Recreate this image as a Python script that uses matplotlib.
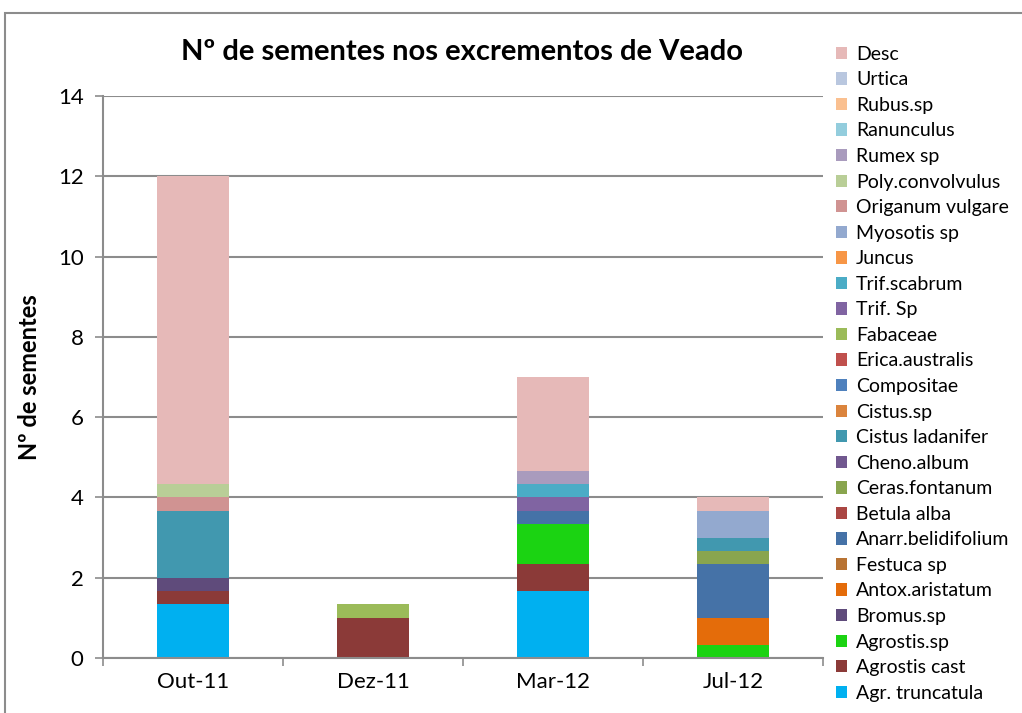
import matplotlib.pyplot as plt
import numpy as np
from matplotlib.patches import Rectangle

plt.rcParams['font.family'] = ['Lato', 'DejaVu Sans']

# Meses amostrados
meses = ['Out-11', 'Dez-11', 'Mar-12', 'Jul-12']

# Especies (de baixo para cima na pilha)
especies = ['Agr. truncatula', 'Agrostis cast', 'Agrostis.sp', 'Bromus.sp',
            'Antox.aristatum', 'Festuca sp', 'Anarr.belidifolium', 'Betula alba',
            'Ceras.fontanum', 'Cheno.album', 'Cistus ladanifer', 'Cistus.sp',
            'Compositae', 'Erica.australis', 'Fabaceae', 'Trif. Sp',
            'Trif.scabrum', 'Juncus', 'Myosotis sp', 'Origanum vulgare',
            'Poly.convolvulus', 'Rumex sp', 'Ranunculus', 'Rubus.sp',
            'Urtica', 'Desc']

# Numero medio de sementes por especie em cada mes
agr_truncatula = [1.333, 0, 1.667, 0]
agrostis_cast = [0.333, 1.0, 0.667, 0]
agrostis_sp = [0, 0, 1.0, 0.333]
bromus_sp = [0.333, 0, 0, 0]
antox_aristatum = [0, 0, 0, 0.667]
festuca_sp = [0, 0, 0, 0]
anarr_belidifolium = [0, 0, 0.333, 1.333]
betula_alba = [0, 0, 0, 0]
ceras_fontanum = [0, 0, 0, 0.333]
cheno_album = [0, 0, 0, 0]
cistus_ladanifer = [1.667, 0, 0, 0.333]
cistus_sp = [0, 0, 0, 0]
compositae = [0, 0, 0, 0]
erica_australis = [0, 0, 0, 0]
fabaceae = [0, 0.333, 0, 0]
trif_sp = [0, 0, 0.333, 0]
trif_scabrum = [0, 0, 0.333, 0]
juncus = [0, 0, 0, 0]
myosotis_sp = [0, 0, 0, 0.667]
origanum_vulgare = [0.333, 0, 0, 0]
poly_convolvulus = [0.333, 0, 0, 0]
rumex_sp = [0, 0, 0.333, 0]
ranunculus = [0, 0, 0, 0]
rubus_sp = [0, 0, 0, 0]
urtica = [0, 0, 0, 0]
desc = [7.667, 0, 2.333, 0.333]

valores = [agr_truncatula, agrostis_cast, agrostis_sp, bromus_sp,
           antox_aristatum, festuca_sp, anarr_belidifolium, betula_alba,
           ceras_fontanum, cheno_album, cistus_ladanifer, cistus_sp,
           compositae, erica_australis, fabaceae, trif_sp,
           trif_scabrum, juncus, myosotis_sp, origanum_vulgare,
           poly_convolvulus, rumex_sp, ranunculus, rubus_sp,
           urtica, desc]

cores = ['#00B0F0', '#8B3A38', '#1BD312', '#5F4B7B',
         '#E46C0A', '#B87333', '#4572A7', '#AA4643',
         '#89A54E', '#71588F', '#4198AF', '#DB843D',
         '#4F81BD', '#C0504D', '#9BBB59', '#8064A2',
         '#4BACC6', '#F79646', '#93A9CF', '#D09392',
         '#B9CE97', '#A99BBD', '#93CDDD', '#FAC090',
         '#B9C7DF', '#E6B9B8']

fig = plt.figure(figsize=(10.22, 7.13), dpi=100)
ax = fig.add_axes([103 / 1022, 1 - 658 / 713, 720 / 1022, 562 / 713])

# moldura do grafico (estilo Excel)
fig.patches.append(Rectangle((5 / 1022, -0.1), 1.1, 1 - 13 / 713 + 0.1,
                             transform=fig.transFigure, fill=False,
                             edgecolor='#8C8C8C', linewidth=1.5))

x = np.arange(len(meses))
base = np.zeros(len(meses))
barras = []
for nome, v, c in zip(especies, valores, cores):
    b = ax.bar(x, v, 0.4, bottom=base, color=c, label=nome)
    barras.append(b)
    base = base + np.array(v)

ax.set_xlim(-0.5, 3.5)
ax.set_ylim(0, 14)
ax.set_yticks(np.arange(0, 15, 2))
ax.set_xticks(x)
ax.set_xticklabels(meses)
ax.set_xticks(np.arange(-0.5, 4, 1), minor=True)
ax.tick_params(axis='x', which='major', length=0, pad=10, labelsize=16)
ax.tick_params(axis='x', which='minor', length=6, color='#8C8C8C', width=1.2)
ax.tick_params(axis='y', length=6, color='#8C8C8C', width=1.2, labelsize=16, pad=8)

ax.grid(axis='y', color='#8C8C8C', linewidth=1.5)
ax.set_axisbelow(True)
for s in ['top', 'right']:
    ax.spines[s].set_visible(False)
for s in ['left', 'bottom']:
    ax.spines[s].set_color('#8C8C8C')
    ax.spines[s].set_linewidth(1.5)

ax.set_ylabel('Nº de sementes', fontsize=17, fontweight='bold', labelpad=12)
fig.text(462 / 1022, 1 - 52 / 713, 'Nº de sementes nos excrementos de Veado',
         ha='center', va='center', fontsize=21, fontweight='bold')

fig.legend(barras[::-1], especies[::-1], loc='upper left',
           bbox_to_anchor=(828 / 1022, 1 - 38 / 713), frameon=False,
           fontsize=14, handlelength=0.6, handleheight=0.6,
           handletextpad=0.45, labelspacing=0.44, borderaxespad=0)

plt.savefig('out.png', dpi=100)
